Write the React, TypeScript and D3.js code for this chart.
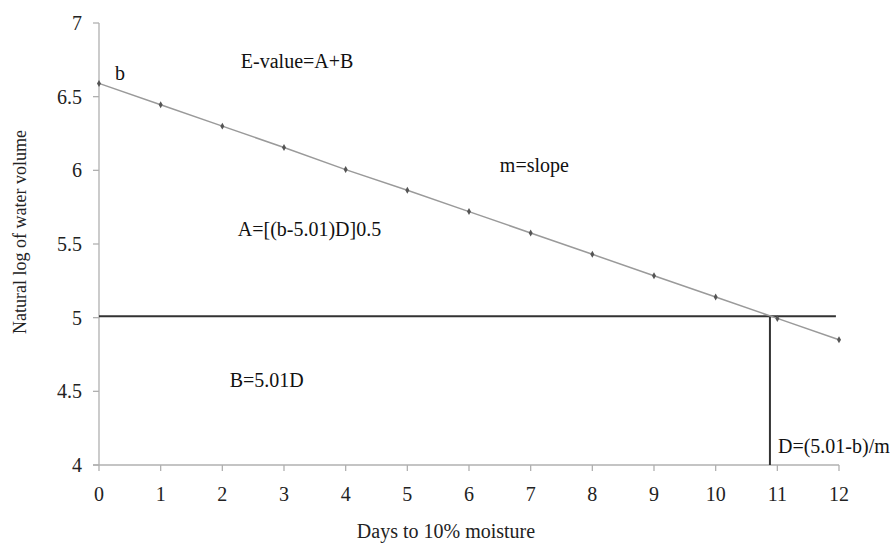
import { useEffect, useRef } from 'react';
import * as d3 from 'd3';

const width = 893;
const height = 546;
const margin = { top: 23, right: 54, bottom: 81, left: 99 };

const days = [0, 1, 2, 3, 4, 5, 6, 7, 8, 9, 10, 11, 12];
const lnVolume = [6.59, 6.445, 6.3, 6.155, 6.005, 5.865, 5.72, 5.575, 5.43, 5.285, 5.14, 4.995, 4.85];
const yTicks = [4, 4.5, 5, 5.5, 6, 6.5, 7];
const threshold = 5.01;
const dValue = 10.88;

const notes = [
  { text: 'b', x: 0.26, y: 6.613 },
  { text: 'E-value=A+B', x: 2.3, y: 6.695 },
  { text: 'm=slope', x: 6.5, y: 5.99 },
  { text: 'A=[(b-5.01)D]0.5', x: 2.25, y: 5.554 },
  { text: 'B=5.01D', x: 2.12, y: 4.53 },
  { text: 'D=(5.01-b)/m', x: 11.01, y: 4.08 },
];

const App = () => {
  const ref = useRef<SVGSVGElement>(null);

  useEffect(() => {
    const svg = d3.select(ref.current);
    svg.selectAll('*').remove();
    const iw = width - margin.left - margin.right;
    const ih = height - margin.top - margin.bottom;

    const x = d3.scaleLinear().domain([0, 12]).range([0, iw]);
    const y = d3.scaleLinear().domain([4, 7]).range([ih, 0]);

    const g = svg.append('g').attr('transform', `translate(${margin.left},${margin.top})`);
    const font = '"Liberation Serif", "Times New Roman", serif';
    const fs = 20;

    // axes
    const axisColor = '#b0b0b0';
    g.append('line').attr('x1', -6).attr('x2', x(12)).attr('y1', ih).attr('y2', ih)
      .attr('stroke', axisColor).attr('stroke-width', 1.3);
    g.append('line').attr('x1', 0).attr('x2', 0).attr('y1', 0).attr('y2', ih)
      .attr('stroke', axisColor).attr('stroke-width', 1.3);

    g.selectAll('.xt').data(days).join('line')
      .attr('x1', d => x(d)).attr('x2', d => x(d)).attr('y1', ih).attr('y2', ih + 6)
      .attr('stroke', axisColor).attr('stroke-width', 1.3);
    g.selectAll('.xl').data(days).join('text')
      .attr('x', d => x(d)).attr('y', ih + 36)
      .attr('text-anchor', 'middle').attr('font-family', font).attr('font-size', fs)
      .attr('fill', '#222').text(d => d);

    g.selectAll('.yt').data(yTicks).join('line')
      .attr('x1', -6).attr('x2', 0).attr('y1', d => y(d)).attr('y2', d => y(d))
      .attr('stroke', axisColor).attr('stroke-width', 1.3);
    g.selectAll('.yl').data(yTicks).join('text')
      .attr('x', -17).attr('y', d => y(d)).attr('dy', '0.35em')
      .attr('text-anchor', 'end').attr('font-family', font).attr('font-size', fs)
      .attr('fill', '#222').text(d => d);

    // axis titles
    svg.append('text').attr('x', 446).attr('y', 538)
      .attr('text-anchor', 'middle').attr('font-family', font).attr('font-size', fs)
      .attr('fill', '#222').text('Days to 10% moisture');
    svg.append('text')
      .attr('transform', `translate(26,232) rotate(-90)`)
      .attr('text-anchor', 'middle').attr('font-family', font).attr('font-size', 18)
      .attr('fill', '#222').text('Natural log of water volume');

    // threshold lines
    g.append('line').attr('x1', 0).attr('x2', x(11.95)).attr('y1', y(threshold)).attr('y2', y(threshold))
      .attr('stroke', '#333').attr('stroke-width', 2);
    g.append('line').attr('x1', x(dValue)).attr('x2', x(dValue)).attr('y1', y(threshold)).attr('y2', ih)
      .attr('stroke', '#333').attr('stroke-width', 2);

    // data line
    const line = d3.line<number>().x((_, i) => x(days[i])).y(d => y(d));
    g.append('path').datum(lnVolume).attr('d', line)
      .attr('fill', 'none').attr('stroke', '#9a9a9a').attr('stroke-width', 1.5);
    g.selectAll('.pt').data(lnVolume).join('path')
      .attr('d', d3.symbol(d3.symbolDiamond, 14)())
      .attr('transform', (d, i) => `translate(${x(days[i])},${y(d)})`)
      .attr('fill', '#555');

    // annotations
    g.selectAll('.note').data(notes).join('text')
      .attr('x', d => x(d.x)).attr('y', d => y(d.y))
      .attr('font-family', font).attr('font-size', fs).attr('fill', '#111')
      .text(d => d.text);
  }, []);

  return (
    <svg ref={ref} width={width} height={height}
      style={{ position: 'absolute', left: 0, top: 0, background: '#fff' }} />
  );
};

export default App;
